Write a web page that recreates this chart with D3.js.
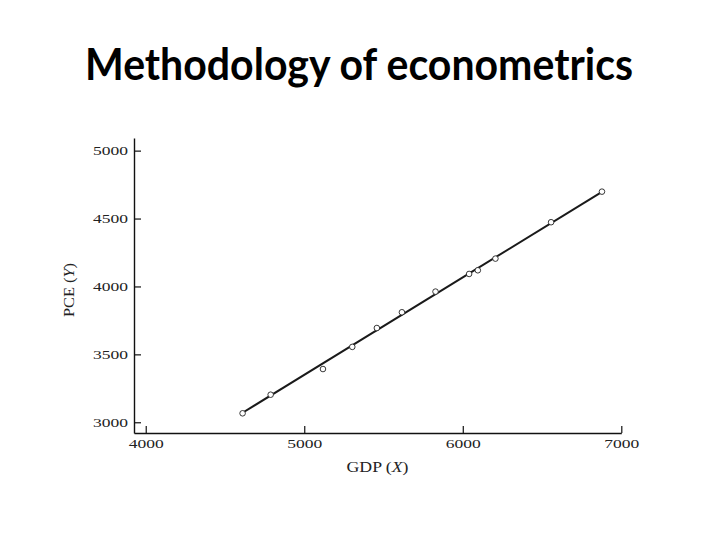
<!DOCTYPE html>
<html>
<head>
<meta charset="utf-8">
<script src="https://cdn.jsdelivr.net/npm/d3@7"></script>
<style>
  html, body { margin: 0; padding: 0; background: #fff; }
  svg { display: block; }
</style>
</head>
<body>
<svg id="chart" width="720" height="540"></svg>
<script>
// ---- data ----
const gdp = [4611, 4788, 5118, 5303, 5458, 5616, 5828, 6040, 6095, 6206, 6557, 6878];
const pce = [3066, 3203, 3392, 3555, 3694, 3810, 3962, 4092, 4119, 4205, 4473, 4698];
const fitX = [4611, 6878];
const fitY = [3070, 4697];
const xTicks = [4000, 5000, 6000, 7000];
const yTicks = [3000, 3500, 4000, 4500, 5000];
const titleText = "Methodology of econometrics";

const svg = d3.select("#chart");

// title
svg.append("text")
  .attr("x", 359).attr("y", 80)
  .attr("text-anchor", "middle")
  .attr("font-family", "Lato, 'Open Sans', sans-serif")
  .attr("font-weight", "bold")
  .attr("font-size", 43)
  .attr("textLength", 548)
  .attr("lengthAdjust", "spacingAndGlyphs")
  .attr("fill", "#000")
  .text(titleText);

// scales (domain extends slightly beyond ticks so axis lines span like the reference)
const x = d3.scaleLinear().domain([3926, 7000]).range([134, 621.3]);
const y = d3.scaleLinear().domain([2921, 5093]).range([433, 138]);

const serif = "'Liberation Serif', 'DejaVu Serif', serif";

// x axis
const gx = svg.append("g").attr("transform", `translate(0,${y(2921)})`)
  .call(d3.axisBottom(x).tickValues(xTicks).tickSize(-7).tickSizeOuter(0).tickPadding(4)
        .tickFormat(d3.format("d")));
gx.select(".domain").attr("stroke", "#111").attr("stroke-width", 1.4);
gx.selectAll(".tick line").attr("stroke", "#111").attr("stroke-width", 1.2);
gx.selectAll(".tick text")
  .attr("font-family", serif).attr("font-size", 13).attr("fill", "#222")
  .attr("y", 6).attr("dy", "0.71em")
  .attr("textLength", 35).attr("lengthAdjust", "spacingAndGlyphs");

// y axis
const gy = svg.append("g").attr("transform", `translate(${x(3926)},0)`)
  .call(d3.axisLeft(y).tickValues(yTicks).tickSize(-7).tickSizeOuter(0).tickPadding(6)
        .tickFormat(d3.format("d")));
gy.select(".domain").attr("stroke", "#111").attr("stroke-width", 1.4);
gy.selectAll(".tick line").attr("stroke", "#111").attr("stroke-width", 1.2);
gy.selectAll(".tick text")
  .attr("font-family", serif).attr("font-size", 13).attr("fill", "#222")
  .attr("textLength", 35).attr("lengthAdjust", "spacingAndGlyphs");

// axis titles
const xt = svg.append("text")
  .attr("x", 377.5).attr("y", 471.5)
  .attr("text-anchor", "middle")
  .attr("font-family", serif).attr("font-size", 14.5).attr("fill", "#222")
  .attr("textLength", 62).attr("lengthAdjust", "spacingAndGlyphs");
xt.append("tspan").text("GDP (");
xt.append("tspan").attr("font-style", "italic").text("X");
xt.append("tspan").text(")");

const yt = svg.append("text")
  .attr("transform", "translate(74,290) rotate(-90)")
  .attr("text-anchor", "middle")
  .attr("font-family", serif).attr("font-size", 14.5).attr("fill", "#222")
  .attr("textLength", 54).attr("lengthAdjust", "spacingAndGlyphs");
yt.append("tspan").text("PCE (");
yt.append("tspan").attr("font-style", "italic").text("Y");
yt.append("tspan").text(")");

// regression line
const fit = fitX.map((v, i) => [v, fitY[i]]);
svg.append("path")
  .datum(fit)
  .attr("d", d3.line().x(d => x(d[0])).y(d => y(d[1])))
  .attr("fill", "none").attr("stroke", "#1a1a1a").attr("stroke-width", 2);

// points
const pts = gdp.map((v, i) => ({ x: v, y: pce[i] }));
svg.append("g").selectAll("circle").data(pts).join("circle")
  .attr("cx", d => x(d.x)).attr("cy", d => y(d.y)).attr("r", 2.8)
  .attr("fill", "#fff").attr("stroke", "#222").attr("stroke-width", 0.9);
</script>
</body>
</html>
